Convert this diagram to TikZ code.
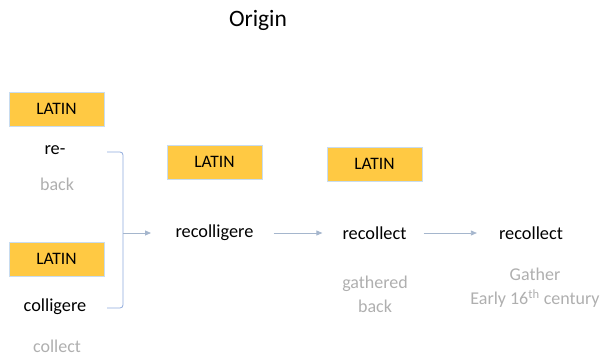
\documentclass[tikz,border=0pt]{standalone}
\usepackage{fontspec}
\setmainfont{Carlito}
\usetikzlibrary{arrows.meta}
\definecolor{gold}{RGB}{255,201,67}
\definecolor{boxline}{RGB}{200,220,240}
\definecolor{graytxt}{RGB}{175,175,175}
\definecolor{arrowc}{RGB}{165,182,205}
\definecolor{bracketc}{RGB}{143,170,220}
\tikzset{
  latinbox/.style={fill=gold,draw=boxline,line width=0.6pt,minimum width=95pt,minimum height=34pt,inner sep=0pt,font=\fontsize{17.5}{19}\selectfont},
  word/.style={inner sep=1pt,font=\fontsize{18.3}{20}\selectfont},
  gloss/.style={inner sep=1pt,text=graytxt,align=center,font=\fontsize{18}{24}\selectfont},
  flow/.style={draw=arrowc,line width=0.8pt,-{Triangle[length=6pt,width=5pt]}},
}
\begin{document}
\begin{tikzpicture}[x=1pt,y=-1pt]
\useasboundingbox (0,0) rectangle (601,358);
\node[font=\fontsize{23.5}{26}\selectfont] (title) at (258,20) {Origin};
\node[latinbox] (l1) at (56.5,109) {LATIN};
\node[latinbox] (l2) at (56.5,259) {LATIN};
\node[latinbox] (l3) at (214.5,162) {LATIN};
\node[latinbox] (l4) at (374.5,164) {LATIN};
\node[word] (re) at (55,150) {re-};
\node[gloss] (back) at (57,184) {back};
\node[word] (col) at (55,307) {colligere};
\node[gloss] (collect) at (57,346) {collect};
\node[word] (recol) at (214.5,233) {recolligere};
\node[word] (rec1) at (374.5,233) {recollect};
\node[word] (rec2) at (531,233) {recollect};
\node[gloss] (gb) at (375,294) {gathered\\back};
\node[gloss] (ga) at (535,288) {Gather\\Early 16\textsuperscript{th} century};
\coordinate (b1) at (107,152);
\coordinate (b2) at (107,308);
\coordinate (bm) at (123,233);
\coordinate (bt) at (151,233);
\draw[draw=bracketc,line width=0.8pt,rounded corners=3pt] (b1) -| (bm) |- (b2);
\draw[flow] (bm) -- (bt);
\draw[flow] ([xshift=19pt]recol.east) -- ([xshift=-19pt]rec1.west);
\draw[flow] ([xshift=16pt]rec1.east) -- ([xshift=-21pt]rec2.west);
\end{tikzpicture}
\end{document}
